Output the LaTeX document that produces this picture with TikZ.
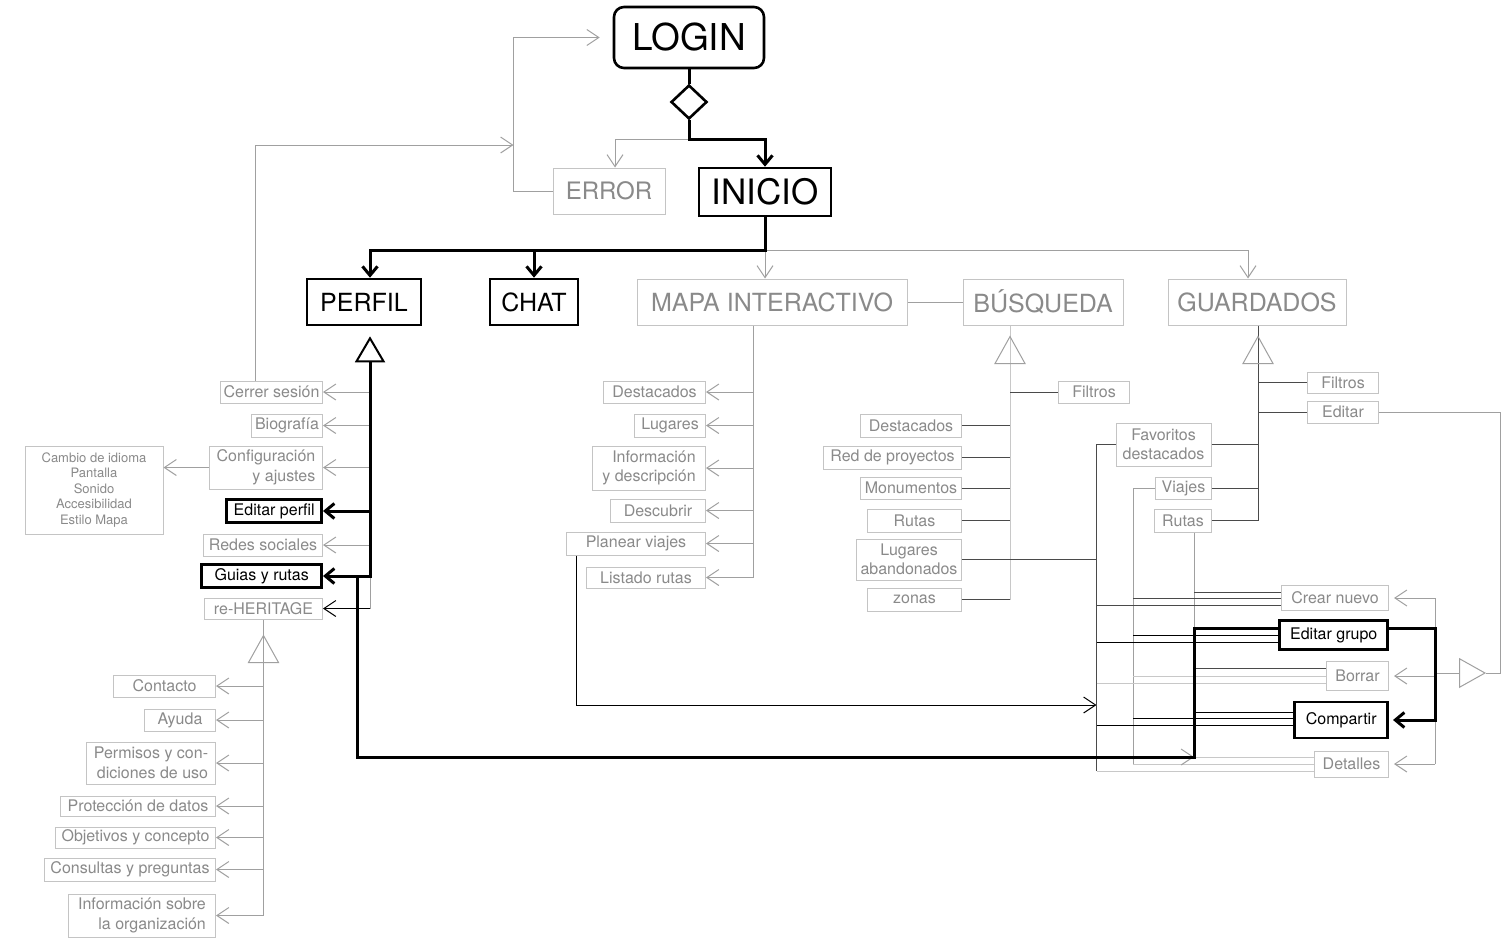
\documentclass[tikz,border=0pt]{standalone}
\usepackage{fontspec}
\setmainfont{TeX Gyre Heros}
\usetikzlibrary{arrows.meta,shapes.geometric,calc}
\definecolor{boxgray}{HTML}{C4C4C4}
\definecolor{txtgray}{HTML}{8A8A8A}
\definecolor{linegray}{HTML}{A0A0A0}
\definecolor{darkline}{HTML}{4A4A4A}
\definecolor{lightline}{HTML}{C8C8C8}

\tikzset{
  fsmall/.style={font=\fontsize{16}{19.5}\selectfont},
  fhead/.style={font=\fontsize{25}{30}\selectfont},
  gbox/.style={draw=boxgray, line width=1pt, text=txtgray, inner sep=1pt, align=right, fsmall},
  kbox/.style={draw=black, line width=2.6pt, text=black, inner sep=1pt, align=center, fsmall},
  gline/.style={draw=linegray, line width=1pt},
  dline/.style={draw=darkline, line width=0.9pt},
  lline/.style={draw=lightline, line width=1pt},
  tline/.style={draw=black, line width=1pt},
  kline/.style={draw=black, line width=3pt},
  garrow/.style={-{Straight Barb[length=12pt,width=16pt,line width=1pt]}},
  tarrow/.style={-{Straight Barb[length=12pt,width=16pt,line width=1pt]}},
  karrow/.style={-{Straight Barb[length=9pt,width=15pt,line width=3pt]}},
  inhup/.pic={\draw[draw=linegray, line width=1pt] (0,0) -- (15,27) -- (-15,27) -- cycle;},
}

\begin{document}
\begin{tikzpicture}[x=1pt,y=-1pt]
\useasboundingbox (0,0) rectangle (1504,938);
\fill[white] (0,0) rectangle (1504,938);

% ---------- entry ----------
\node[kbox, rounded corners=10pt, font=\fontsize{37}{40}\selectfont, minimum width=150, minimum height=61] (login) at (689,37.5) {LOGIN};
\node[diamond, draw, line width=2.6pt, minimum width=36, minimum height=34, inner sep=0pt] (dec) at (689,102) {};
\node[gbox, align=center, font=\fontsize{24}{28}\selectfont, minimum width=112, minimum height=46] (error) at (609,191) {ERROR};
\node[kbox, font=\fontsize{35}{40}\selectfont, minimum width=132, minimum height=48] (inicio) at (765,192) {INICIO};

% ---------- main sections ----------
\node[kbox, fhead, minimum width=114, minimum height=46] (perfil) at (364,302) {PERFIL};
\node[kbox, fhead, minimum width=88, minimum height=46] (chat) at (534,302) {CHAT};
\node[gbox, fhead, minimum width=270, minimum height=46] (mapa) at (772,302) {MAPA INTERACTIVO};
\node[gbox, fhead, minimum width=160, minimum height=46] (busq) at (1043,302) {BÚSQUEDA};
\node[gbox, fhead, minimum width=178, minimum height=46] (guard) at (1257,302) {GUARDADOS};

% ---------- perfil ----------
\node[gbox, anchor=east, minimum width=102, minimum height=22] (cerrer) at (323,392) {Cerrer sesión};
\node[gbox, anchor=east, minimum width=71, minimum height=23] (bio) at (323,425.5) {Biografía};
\node[gbox, anchor=east, minimum width=113, minimum height=43] (config) at (323,467.5) {Configuración\\y ajustes};
\node[kbox, anchor=east, minimum width=95, minimum height=23] (eperfil) at (323,511) {Editar perfil};
\node[gbox, anchor=east, minimum width=119, minimum height=22] (redes) at (323,545) {Redes sociales};
\node[kbox, anchor=east, minimum width=120, minimum height=23] (guias) at (323,576) {Guias y rutas};
\node[gbox, anchor=east, minimum width=118, minimum height=21] (reher) at (323,608.5) {re-HERITAGE};
\node[gbox, align=center, font=\fontsize{13}{15.5}\selectfont, minimum width=138, minimum height=88] (cambio) at (94,490) {Cambio de idioma\\Pantalla\\Sonido\\Accesibilidad\\Estilo Mapa};

% ---------- re-HERITAGE ----------
\node[gbox, anchor=east, minimum width=102, minimum height=22] (contacto) at (216,686) {Contacto};
\node[gbox, anchor=east, minimum width=71, minimum height=22] (ayuda) at (216,720) {Ayuda};
\node[gbox, anchor=east, minimum width=129, minimum height=42] (permisos) at (216,763) {Permisos y con-\\diciones de uso};
\node[gbox, anchor=east, minimum width=155, minimum height=20] (proteccion) at (216,806) {Protección de datos};
\node[gbox, anchor=east, minimum width=160, minimum height=21] (objetivos) at (216,837.5) {Objetivos y concepto};
\node[gbox, anchor=east, minimum width=171, minimum height=23] (consultas) at (216,869.5) {Consultas y preguntas};
\node[gbox, anchor=east, minimum width=147, minimum height=43] (orginfo) at (216,915.5) {Información sobre\\la organización};

% ---------- mapa ----------
\node[gbox, anchor=east, minimum width=102, minimum height=22] (mdest) at (706,392) {Destacados};
\node[gbox, anchor=east, minimum width=71, minimum height=23] (mlug) at (706,425.5) {Lugares};
\node[gbox, anchor=east, minimum width=113, minimum height=44] (minfo) at (706,468) {Información\\y descripción};
\node[gbox, anchor=east, minimum width=95, minimum height=23] (mdesc) at (706,510.5) {Descubrir};
\node[gbox, anchor=east, minimum width=139, minimum height=23] (mplan) at (706,543.5) {Planear viajes};
\node[gbox, anchor=east, minimum width=119, minimum height=21] (mlist) at (706,577.5) {Listado rutas};

% ---------- busqueda ----------
\node[gbox, anchor=east, minimum width=101, minimum height=23] (bdest) at (962,425.5) {Destacados};
\node[gbox, anchor=east, minimum width=138, minimum height=23] (bred) at (962,457.5) {Red de proyectos};
\node[gbox, anchor=east, minimum width=101, minimum height=22] (bmon) at (962,488) {Monumentos};
\node[gbox, anchor=east, minimum width=94, minimum height=23] (brut) at (962,520.5) {Rutas};
\node[gbox, anchor=east, align=center, minimum width=105, minimum height=41] (blug) at (962,559.5) {Lugares\\abandonados};
\node[gbox, anchor=east, minimum width=94, minimum height=23] (bzon) at (962,599.5) {zonas};
\node[gbox, anchor=west, minimum width=71, minimum height=22] (bfil) at (1058,392) {Filtros};

% ---------- guardados ----------
\node[gbox, anchor=west, minimum width=71, minimum height=21] (gfil) at (1307,382.5) {Filtros};
\node[gbox, anchor=west, minimum width=71, minimum height=22] (gedit) at (1307,412) {Editar};
\node[gbox, align=center, minimum width=95, minimum height=43] (fav) at (1163.5,444.5) {Favoritos\\destacados};
\node[gbox, anchor=west, minimum width=56, minimum height=22] (viajes) at (1155,488) {Viajes};
\node[gbox, anchor=west, minimum width=57, minimum height=23] (gruta) at (1154,520.5) {Rutas};

\node[gbox, anchor=east, minimum width=107, minimum height=25] (crear) at (1389,598) {Crear nuevo};
\node[kbox, anchor=east, minimum width=108, minimum height=29] (egrupo) at (1389,635) {Editar grupo};
\node[gbox, anchor=east, minimum width=62, minimum height=29] (borrar) at (1389,676) {Borrar};
\node[kbox, anchor=east, minimum width=93, minimum height=36] (comp) at (1389,720) {Compartir};
\node[gbox, anchor=east, minimum width=74, minimum height=26] (detal) at (1389,764) {Detalles};

% ---------- junction points ----------
\coordinate (split) at ($(dec.south)+(0,19)$);
\coordinate (hub) at ($(inicio.south)+(0,33)$);
\coordinate (loopx) at ($(error.west)+(-39,0)$);
\coordinate (logout) at ($(loopx)+(0,-46)$);
\coordinate (ps) at ($(perfil.south)+(6,0)$);
\coordinate (ms) at ($(mapa.south)+(-19,0)$);
\coordinate (bs) at ($(busq.south)+(-33,0)$);
\coordinate (gs) at ($(guard.south)+(1,0)$);
\coordinate (fs) at ($(fav.west)+(-19,0)$);
\coordinate (vs) at ($(viajes.west)+(-22,0)$);
\coordinate (rts) at ($(gruta.south)+(11,0)$);
\coordinate (es) at ($(crear.east)+(46,0)$);
\coordinate (tapex) at ($(es |- borrar.east)+(51,-3)$);
\coordinate (ecorner) at ($(tapex)+(14,0)$);
\coordinate (pvend) at ($(fs |- detal.west)+(0,-59)$);
\coordinate (gdown) at ($(rts |- detal.west)+(0,-7)$);

% ---------- login / inicio ----------
\draw[kline] (login.south) -- (dec.north);
\draw[gline, garrow] (split) -| ($(error.north)+(6,0)$);
\draw[kline, karrow] (dec.south) -- (split) -| (inicio.north);
\draw[gline, garrow, shorten >=13pt] (error.west) -- (loopx) |- (login.west);
\draw[gline, garrow] ($(cerrer.north)+(-16,0)$) |- (logout);

\draw[gline, garrow] (hub) -- (hub |- mapa.north);
\draw[gline, garrow] (hub) -| ($(guard.north)+(-9,0)$);
\draw[kline, karrow] (inicio.south) -- (hub) -| (ps |- perfil.north);
\draw[kline, karrow] (hub) -| (chat.north);

% ---------- perfil ----------
\foreach \n in {cerrer, bio, config, redes} \draw[gline, garrow] (ps |- \n.east) -- (\n.east);
\draw[gline] (ps |- guias.east) -- (ps |- reher.east);
\draw[tline, tarrow] (ps |- reher.east) -- (reher.east);
\draw[gline, garrow] (config.west) -- (cambio.east |- config.west);
\draw[kline, karrow] (ps |- eperfil.east) -- (eperfil.east);
\draw[kline, {Triangle[open,length=26pt,width=30pt,line width=2pt]}-{Straight Barb[length=9pt,width=15pt,line width=3pt]}]
  ($(ps)+(0,10)$) -- (ps |- guias.east) -- (guias.east);

% ---------- re-HERITAGE ----------
\draw[gline] (reher.south) -- (reher.south |- orginfo.east);
\pic at ($(reher.south)+(0,16)$) {inhup};
\foreach \n in {contacto, ayuda, permisos, proteccion, objetivos, consultas, orginfo}
  \draw[gline, garrow] (reher.south |- \n.east) -- (\n.east);

% ---------- mapa ----------
\draw[gline] (ms) -- (ms |- mlist.east);
\foreach \n in {mdest, mlug, minfo, mdesc, mplan, mlist} \draw[gline, garrow] (ms |- \n.east) -- (\n.east);
\draw[tline, tarrow] ($(mplan.south west)+(10,0)$) |- (pvend);
\draw[gline] (mapa.east) -- (busq.west);

% ---------- busqueda ----------
\draw[lline] (bs) -- (bs |- bzon.east);
\pic at ($(bs)+(0,11)$) {inhup};
\foreach \n in {bdest, bred, bmon, brut, bzon} \draw[dline] (\n.east) -- (bs |- \n.east);
\draw[dline] (bs |- bfil.west) -- (bfil.west);
\draw[dline] (blug.east) -- (fs |- blug.east);

% ---------- guardados ----------
\draw[dline] (gs) -- (gs |- gruta.east);
\pic at ($(gs)+(0,11)$) {inhup};
\draw[dline] (gs |- gfil.west) -- (gfil.west);
\draw[dline] (gs |- gedit.west) -- (gedit.west);
\foreach \n in {fav, viajes, gruta} \draw[dline] (\n.east) -- (gs |- \n.east);

\draw[dline] (fav.west) -- (fs) -- ($(fs |- detal.west)+(0,7)$);
\draw[gline] (viajes.west) -- (vs) -- (vs |- detal.west);
\draw[gline] (gruta.south -| rts) -- (gdown);

% links from saved lists to group actions
\draw[dline] ($(rts |- crear.west)+(0,-6)$) -- ($(crear.west)+(0,-6)$);
\draw[dline] (vs |- crear.west) -- (crear.west);
\draw[dline] ($(fs |- crear.west)+(0,7)$) -- ($(crear.west)+(0,7)$);
\draw[tline] (vs |- egrupo.west) -- (egrupo.west);
\draw[tline] ($(fs |- egrupo.west)+(0,7)$) -- ($(egrupo.west)+(0,7)$);
\draw[dline] ($(rts |- borrar.west)+(0,-8)$) -- ($(borrar.west)+(0,-8)$);
\draw[lline] (vs |- borrar.west) -- (borrar.west);
\draw[lline] ($(fs |- borrar.west)+(0,7)$) -- ($(borrar.west)+(0,7)$);
\draw[tline] ($(rts |- comp.west)+(0,-8)$) -- ($(comp.west)+(0,-8)$);
\draw[tline] ($(vs |- comp.west)+(0,-2)$) -- ($(comp.west)+(0,-2)$);
\draw[tline] ($(fs |- comp.west)+(0,5)$) -- ($(comp.west)+(0,5)$);
\draw[lline] (gdown) -- ($(detal.west)+(0,-7)$);
\draw[lline] (vs |- detal.west) -- (detal.west);
\draw[lline] ($(fs |- detal.west)+(0,7)$) -- ($(detal.west)+(0,7)$);

% group actions specialise Editar
\draw[gline] (es) -- (es |- detal.east);
\foreach \n in {crear, borrar, detal} \draw[gline, garrow, shorten >=5pt] (es |- \n.east) -- (\n.east);
\draw[gline, -{Triangle[open,length=27pt,width=30pt,line width=1pt]}] (es |- tapex) -- (tapex);
\draw[gline] (tapex) -- (ecorner) |- (gedit.east);

% ---------- highlighted flow ----------
\draw[kline, karrow, shorten >=4pt] ($(egrupo.east)+(0,-7)$) -- ($(es |- egrupo.east)+(0,-7)$) -- (es |- comp.east) -- (comp.east);
\draw[gline, garrow] ($(gdown)+(-20,0)$) -- (gdown);
\draw[kline] ($(ps |- guias.east)+(-13,0)$) |- (gdown) -- ($(rts |- egrupo.west)+(0,-7)$) -- ($(egrupo.west)+(0,-7)$);
\end{tikzpicture}
\end{document}
